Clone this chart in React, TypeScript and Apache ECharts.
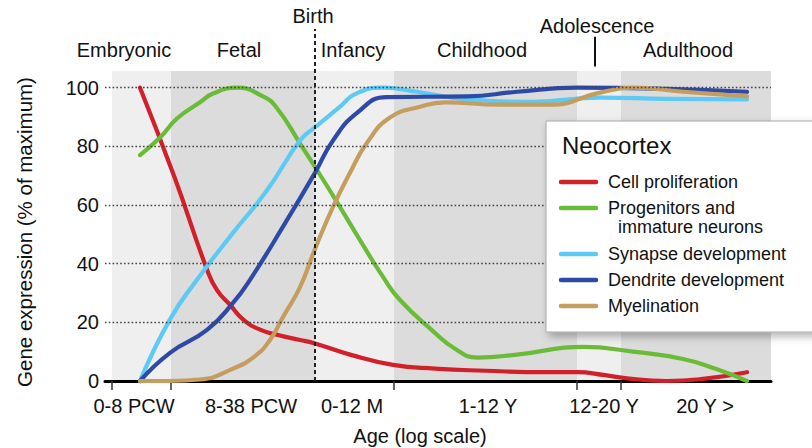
import React, { useEffect, useRef } from "react";
import * as echarts from "echarts";

// Age axis is an ordinal log-like position scale (0 .. 666)
const ageBoundaries = [7, 66, 210, 289, 472, 516, 666];
const tickValues = [7, 66, 289, 472, 516];
const ageLabelValues = [29, 146, 247, 383, 499, 600];
const ageLabels = ["0-8 PCW", "8-38 PCW", "0-12 M", "1-12 Y", "12-20 Y", "20 Y >"];
const birthAt = 210;
const adolescenceAt = 490;
const yTicks = [20, 40, 60, 80, 100];

const cellProliferation: [number, number][] = [
  [35, 100], [70, 69], [102, 38], [112, 31], [125, 26], [138, 21], [155, 17.5],
  [175, 15.5], [195, 14], [210, 12.8], [245, 9], [288, 5.5], [330, 4.2], [380, 3.5],
  [440, 3], [472, 3], [500, 2], [520, 1], [562, 0], [600, 0.8], [642, 3],
];
const progenitors: [number, number][] = [
  [35, 77], [55, 83], [72, 89.5], [95, 95], [108, 98], [132, 100], [158, 97],
  [172, 93], [195, 81], [210, 73], [232, 61], [255, 48], [278, 35.5], [295, 27.6],
  [328, 17], [350, 11], [372, 8], [412, 9], [478, 11.6], [528, 10], [578, 7.5],
  [612, 4], [642, 0],
];
const synapse: [number, number][] = [
  [35, 0], [65, 21], [92, 34.5], [128, 50.5], [162, 65], [195, 82], [210, 86.5],
  [235, 93.5], [250, 97.8], [278, 100], [312, 98.6], [362, 96], [428, 95.2],
  [495, 96.6], [562, 96.2], [642, 96],
];
const dendrite: [number, number][] = [
  [35, 0], [65, 9.6], [102, 17.4], [128, 26.6], [145, 34.5], [178, 52.6], [210, 71],
  [228, 82], [252, 91.4], [282, 96.8], [362, 97], [412, 98.6], [472, 100],
  [562, 99.6], [642, 98.6],
];
const myelination: [number, number][] = [
  [35, 0], [65, 0], [95, 0.5], [128, 4.2], [150, 8.5], [165, 14], [178, 21.8],
  [195, 32], [210, 45], [228, 59.4], [245, 71], [262, 81.2], [285, 89.8], [315, 93.5],
  [340, 95], [395, 94.2], [445, 94.2], [495, 98.3], [528, 100], [578, 98.6], [642, 97],
];

const seriesDefs = [
  { name: "Cell proliferation", data: cellProliferation, color: "#d2202a" },
  { name: "Progenitors and\n  immature neurons", data: progenitors, color: "#6cbb38" },
  { name: "Synapse development", data: synapse, color: "#5ccaf5" },
  { name: "Dendrite development", data: dendrite, color: "#2e4aa6" },
  { name: "Myelination", data: myelination, color: "#c59d5f" },
];

const stageNames = ["Embryonic", "Fetal", "Infancy", "Childhood", "Adulthood"];

const FONT = "'Liberation Sans', Arial, Helvetica, sans-serif";

export default function App() {
  const ref = useRef<HTMLDivElement>(null);

  useEffect(() => {
    if (!ref.current) return;
    document.body.style.margin = "0";
    document.body.style.overflow = "hidden";
    const chart = echarts.init(ref.current, null, { renderer: "svg" });

    const bandTop = 105.7;
    const bands = [];
    for (let i = 0; i < ageBoundaries.length - 1; i++) {
      bands.push([
        { coord: [ageBoundaries[i], 0], itemStyle: { color: i % 2 === 0 ? "#efefef" : "#dcdcdc" } },
        { coord: [ageBoundaries[i + 1], bandTop] },
      ]);
    }

    const stageX = [124, 239, 353, 482, 688];
    const legendRows = [182, 208, 254, 280, 306];

    const graphic: any[] = [
      ...stageNames.map((t, i) => ({
        type: "text",
        x: stageX[i],
        y: 50,
        style: { text: t, font: `20px ${FONT}`, fill: "#111", align: "center", verticalAlign: "middle" },
      })),
      {
        type: "text", x: 313, y: 16,
        style: { text: "Birth", font: `20px ${FONT}`, fill: "#111", align: "center", verticalAlign: "middle" },
      },
      {
        type: "text", x: 597, y: 26,
        style: { text: "Adolescence", font: `20px ${FONT}`, fill: "#111", align: "center", verticalAlign: "middle" },
      },
      {
        type: "text", x: 24, y: 232, rotation: Math.PI / 2,
        style: { text: "Gene expression (% of maximum)", font: `20.5px ${FONT}`, fill: "#111", align: "center", verticalAlign: "middle" },
      },
      {
        type: "text", x: 420, y: 436,
        style: { text: "Age (log scale)", font: `20px ${FONT}`, fill: "#111", align: "center", verticalAlign: "middle" },
      },
      {
        type: "rect",
        z: 10,
        shape: { x: 546, y: 121, width: 300, height: 211 },
        style: {
          fill: "#fff", stroke: "#a8a8a8", lineWidth: 1,
          shadowBlur: 8, shadowOffsetX: 3, shadowOffsetY: 4, shadowColor: "rgba(0,0,0,0.3)",
        },
      },
      {
        type: "text", z: 11, x: 562, y: 145,
        style: { text: "Neocortex", font: `24px ${FONT}`, fill: "#111", align: "left", verticalAlign: "middle" },
      },
      ...seriesDefs.flatMap((s, i) => [
        {
          type: "line", z: 11,
          shape: { x1: 561, y1: legendRows[i], x2: 596, y2: legendRows[i] },
          style: { stroke: s.color, lineWidth: 4.5, lineCap: "round" },
        },
        {
          type: "text", z: 11, x: 608, y: legendRows[i] - 10,
          style: {
            text: s.name, font: `18px ${FONT}`, fill: "#111", align: "left",
            verticalAlign: "top", lineHeight: 19.5,
          },
        },
      ]),
    ];

    chart.setOption({
      animation: false,
      grid: { left: 105, right: 41, top: 29, bottom: 67 },
      xAxis: {
        type: "value",
        min: 0,
        max: 666,
        z: 2,
        splitLine: { show: false },
        axisLine: { show: true, lineStyle: { color: "#000", width: 3 } },
        axisTick: {
          show: true,
          customValues: tickValues,
          length: 9,
          lineStyle: { color: "#333", width: 1.5 },
        },
        axisLabel: {
          customValues: ageLabelValues,
          formatter: (v: number) => {
            const i = ageLabelValues.indexOf(Math.round(v));
            return i >= 0 ? ageLabels[i] : "";
          },
          margin: 15,
          fontSize: 20,
          fontFamily: FONT,
          color: "#111",
        },
      },
      yAxis: {
        type: "value",
        min: 0,
        max: 120,
        interval: 20,
        z: 2,
        splitLine: { show: false },
        axisLine: { show: false },
        axisTick: { show: false },
        axisLabel: {
          formatter: (v: number) => (v <= 100 ? String(v) : ""),
          margin: 6,
          fontSize: 20,
          fontFamily: FONT,
          color: "#111",
        },
      },
      graphic,
      series: [
        {
          type: "line",
          data: [],
          z: 0,
          silent: true,
          markArea: { silent: true, data: bands },
        },
        {
          type: "line",
          data: [],
          z: 1,
          silent: true,
          markLine: {
            silent: true,
            symbol: "none",
            label: { show: false },
            lineStyle: { color: "#444", width: 1.4, type: [1.6, 2.2] },
            data: [
              ...yTicks.map((v) => ({ yAxis: v })),
              [
                { coord: [birthAt, 0], lineStyle: { color: "#222", width: 2, type: [4, 3] } },
                { coord: [birthAt, 120] },
              ],
              [
                { coord: [adolescenceAt, 107.2], lineStyle: { color: "#111", width: 2, type: "solid" } },
                { coord: [adolescenceAt, 117.4] },
              ],
            ],
          },
        },
        ...seriesDefs.map((s) => ({
          type: "line",
          name: s.name,
          data: s.data,
          z: 3,
          smooth: 0.5,
          showSymbol: false,
          clip: false,
          lineStyle: { color: s.color, width: 4.2, cap: "round", join: "round" },
          itemStyle: { color: s.color },
        })),
      ],
    });

    return () => chart.dispose();
  }, []);

  return <div ref={ref} style={{ width: 812, height: 448 }} />;
}
